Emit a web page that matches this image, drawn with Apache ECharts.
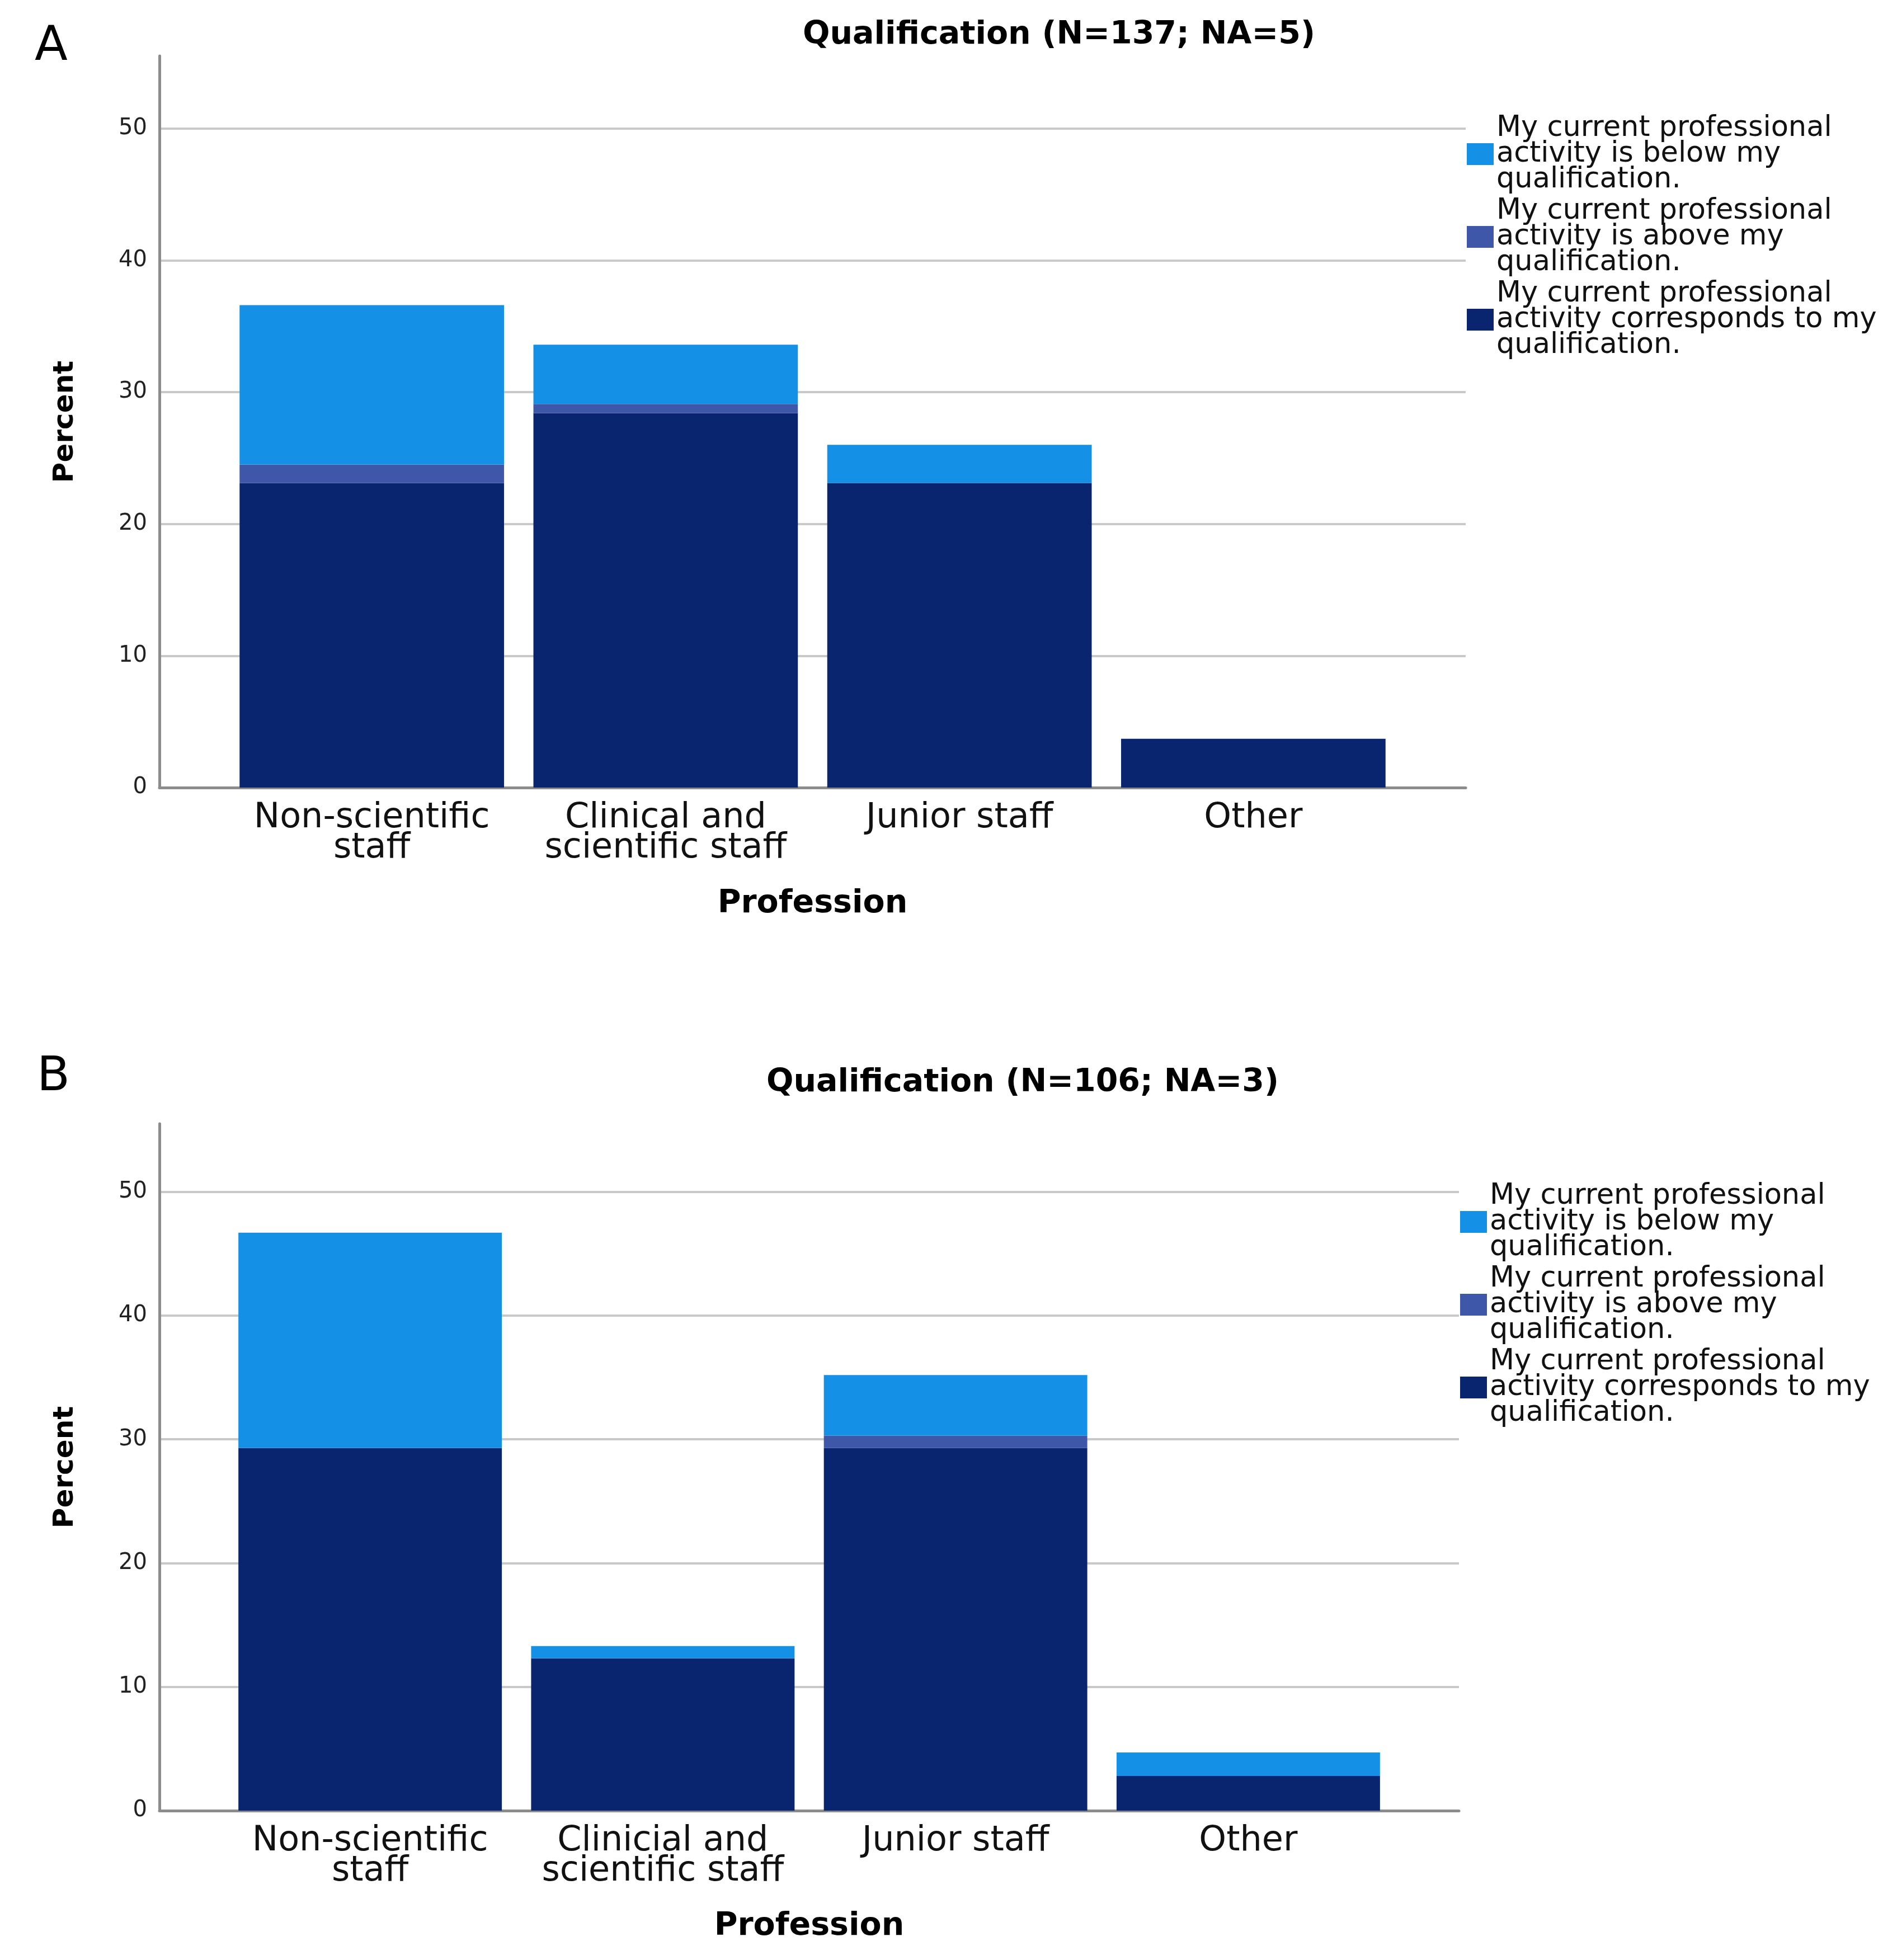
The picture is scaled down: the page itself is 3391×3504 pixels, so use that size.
<!DOCTYPE html>
<html>
<head>
<meta charset="utf-8">
<script src="https://cdn.jsdelivr.net/npm/echarts@6/dist/echarts.min.js"></script>
<style>
html,body{margin:0;padding:0;background:#fff;}
#chart{width:3391px;height:3504px;}
</style>
</head>
<body>
<div id="chart"></div>
<script>
// ---- data ----
const seriesNames = [
  'My current professional\nactivity is below my\nqualification.',
  'My current professional\nactivity is above my\nqualification.',
  'My current professional\nactivity corresponds to my\nqualification.'
];
const categoriesA = ['Non-scientific\nstaff', 'Clinical and\nscientific staff', 'Junior staff', 'Other'];
const categoriesB = ['Non-scientific\nstaff', 'Clinicial and\nscientific staff', 'Junior staff', 'Other'];
const titleA = 'Qualification (N=137; NA=5)';
const titleB = 'Qualification (N=106; NA=3)';
// Panel A percentages
const correspondsA = [23.1, 28.4, 23.1, 3.7];
const aboveA       = [1.4, 0.7, 0, 0];
const belowA       = [12.1, 4.5, 2.9, 0];
// Panel B percentages
const correspondsB = [29.3, 12.3, 29.3, 2.8];
const aboveB       = [0, 0, 1.0, 0];
const belowB       = [17.4, 1.0, 4.9, 1.9];
const yTicks = [0, 10, 20, 30, 40, 50];

// ---- style ----
const FONT = 'DejaVu Sans';
const colBelow = '#1490E6';
const colAbove = '#3F57A8';
const colCorr = '#0A256F';
const axisGray = '#8c8c8c';
const gridGray = '#c9c9c9';
const Y_MAX = 55.5;

function frameY(gridIndex) {
  return {
    type: 'value', gridIndex: gridIndex, min: 0, max: Y_MAX, interval: yTicks[1] - yTicks[0],
    name: 'Percent', nameLocation: 'middle', nameRotate: 90, nameGap: 143,
    nameTextStyle: {fontFamily: FONT, fontWeight: 'bold', fontSize: 50, color: '#000'},
    axisLine: {show: true, lineStyle: {color: axisGray, width: 5}},
    axisTick: {show: false},
    axisLabel: {fontFamily: FONT, fontSize: 40, color: '#222', margin: 22, showMaxLabel: false,
      formatter: v => (yTicks.indexOf(v) >= 0 ? String(v) : '')},
    splitLine: {show: true, showMaxLine: false, lineStyle: {color: gridGray, width: 4}}
  };
}
function barsY(gridIndex) {
  return {type: 'value', gridIndex: gridIndex, min: 0, max: Y_MAX, show: false, splitLine: {show: false}};
}
function frameX(gridIndex) {
  return {type: 'value', gridIndex: gridIndex, min: 0, max: 1,
    axisLine: {show: true, lineStyle: {color: axisGray, width: 5}},
    axisTick: {show: false}, axisLabel: {show: false}, splitLine: {show: false}};
}
function barsX(gridIndex, cats, gap) {
  return {type: 'category', gridIndex: gridIndex, data: cats,
    name: 'Profession', nameLocation: 'middle', nameGap: gap,
    nameTextStyle: {fontFamily: FONT, fontWeight: 'bold', fontSize: 57, color: '#000'},
    axisLine: {show: false}, axisTick: {show: false},
    axisLabel: {fontFamily: FONT, fontSize: 62, lineHeight: 54, color: '#111', margin: 28, interval: 0},
    splitLine: {show: false}};
}
function barSeries(idx, stack, corr, above, below) {
  const base = {type: 'bar', stack: stack, xAxisIndex: idx, yAxisIndex: idx,
    barCategoryGap: '10%', emphasis: {disabled: true}};
  return [
    Object.assign({}, base, {name: seriesNames[2], data: corr, itemStyle: {color: colCorr}}),
    Object.assign({}, base, {name: seriesNames[1], data: above, itemStyle: {color: colAbove}}),
    Object.assign({}, base, {name: seriesNames[0], data: below, itemStyle: {color: colBelow}})
  ];
}
function legend(left, top) {
  return {
    orient: 'vertical', left: left, top: top, padding: 0, itemGap: 5,
    itemWidth: 48, itemHeight: 39, icon: 'rect', selectedMode: false,
    data: seriesNames,
    textStyle: {fontFamily: FONT, fontSize: 51, lineHeight: 46, color: '#111'}
  };
}

const chart = echarts.init(document.getElementById('chart'), null, {renderer: 'canvas'});
chart.setOption({
  backgroundColor: '#ffffff',
  animation: false,
  grid: [
    {left: 285, right: 771, top: 100, bottom: 2096},   // A frame
    {left: 402, right: 888, top: 100, bottom: 2096},   // A bars
    {left: 285, right: 783, top: 2009, bottom: 267},   // B frame
    {left: 400, right: 898, top: 2009, bottom: 267}    // B bars
  ],
  xAxis: [frameX(0), barsX(1, categoriesA, 180), frameX(2), barsX(3, categoriesB, 179)],
  yAxis: [frameY(0), barsY(1), frameY(2), barsY(3)],
  legend: [legend(2622, 204), legend(2610, 2113)],
  graphic: [
    {type: 'text', left: 62, top: 42, style: {text: 'A', fontFamily: FONT, fontSize: 86, fill: '#000'}},
    {type: 'text', left: 66, top: 1884, style: {text: 'B', fontFamily: FONT, fontSize: 86, fill: '#000'}},
    {type: 'text', x: 1893, y: 63, style: {text: titleA, fontFamily: FONT, fontWeight: 'bold', fontSize: 57,
      fill: '#000', align: 'center', verticalAlign: 'middle'}},
    {type: 'text', x: 1828, y: 1936, style: {text: titleB, fontFamily: FONT, fontWeight: 'bold', fontSize: 57,
      fill: '#000', align: 'center', verticalAlign: 'middle'}}
  ],
  series: [].concat(
    barSeries(1, 'A', correspondsA, aboveA, belowA),
    barSeries(3, 'B', correspondsB, aboveB, belowB)
  )
});
</script>
</body>
</html>
